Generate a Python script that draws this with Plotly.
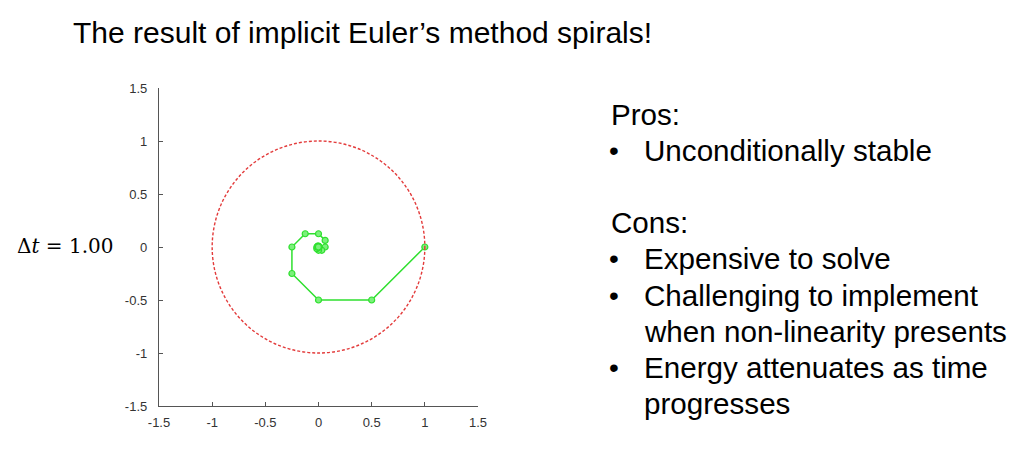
import plotly.graph_objects as go

W, H = 1031, 457

# implicit Euler states (position, velocity), dt = 1.00
pos = [1, 0.5, 0, -0.25, -0.25, -0.125, 0, 0.0625, 0.0625, 0.03125, 0,
       -0.0156, -0.0156, -0.0078, 0, 0.0039, 0.0039, 0.002, 0, -0.001, -0.001]
vel = [0, -0.5, -0.5, -0.25, 0, 0.125, 0.125, 0.0625, 0, -0.03125, -0.03125,
       -0.0156, 0, 0.0078, 0.0078, 0.0039, 0, -0.002, -0.002, -0.001, 0]

tick_vals = [-1.5, -1, -0.5, 0, 0.5, 1, 1.5]
tick_text = ["-1.5", "-1", "-0.5", "0", "0.5", "1", "1.5"]

title = "The result of implicit Euler’s method spirals!"
side_lines = [
    ("", "Pros:"),
    ("•", "Unconditionally stable"),
    ("", ""),
    ("", "Cons:"),
    ("•", "Expensive to solve"),
    ("•", "Challenging to implement"),
    ("", "when non-linearity presents"),
    ("•", "Energy attenuates as time"),
    ("", "progresses"),
]


def px_x(x):
    return x / W


def px_y(y):
    return 1 - y / H


fig = go.Figure()

fig.add_trace(go.Scatter(
    x=pos, y=vel, mode="lines+markers",
    line=dict(color="#2fe02f", width=1.5),
    marker=dict(symbol="circle", size=6, color="#7cf07c",
                line=dict(color="#2fe02f", width=1.2)),
    hoverinfo="skip", showlegend=False,
))

# unit circle (exact energy level)
fig.add_shape(type="circle", xref="x", yref="y", x0=-1, y0=-1, x1=1, y1=1,
              line=dict(color="#e33b3b", width=1.4, dash="3px,2px"))

axis_style = dict(
    range=[-1.5, 1.5], tickvals=tick_vals, ticktext=tick_text,
    showgrid=False, zeroline=False, showline=True, automargin=False,
    linecolor="#555555", linewidth=1.3,
    ticks="inside", ticklen=4, tickcolor="#555555",
    tickfont=dict(family="Liberation Sans, Arial", size=13, color="#333333"),
)

fig.update_xaxes(domain=[px_x(159), px_x(478)], ticklabelstandoff=4, **axis_style)
fig.update_yaxes(domain=[px_y(406), px_y(88)], ticklabelstandoff=8, **axis_style)

ann = []
ann.append(dict(text=title, x=px_x(71), y=px_y(32), xanchor="left", yanchor="middle",
                font=dict(family="Liberation Sans, Arial", size=30, color="#000000")))
ann.append(dict(text="Δ<i>t</i> = 1.00", x=px_x(15), y=px_y(246),
                xanchor="left", yanchor="middle",
                font=dict(family="DejaVu Serif, Liberation Serif", size=20, color="#000000")))

y0, step = 114, 36.2
for i, (bullet, line) in enumerate(side_lines):
    yy = y0 + i * step
    if bullet:
        ann.append(dict(text=bullet, x=px_x(607), y=px_y(yy), xanchor="left", yanchor="middle",
                        font=dict(family="Liberation Sans, Arial", size=28, color="#000000")))
    if line:
        x_left = 609 if line in ("Pros:", "Cons:") else 642
        ann.append(dict(text=line, x=px_x(x_left), y=px_y(yy), xanchor="left", yanchor="middle",
                        font=dict(family="Liberation Sans, Arial", size=29.6, color="#000000")))

for a in ann:
    a.update(xref="paper", yref="paper", showarrow=False)

fig.update_layout(
    width=W, height=H, margin=dict(l=0, r=0, t=0, b=0),
    paper_bgcolor="white", plot_bgcolor="white",
    annotations=ann,
)

fig.write_html("out.html", config={"displayModeBar": False},
               post_script="document.body.style.margin='0';document.body.style.overflow='hidden';")
